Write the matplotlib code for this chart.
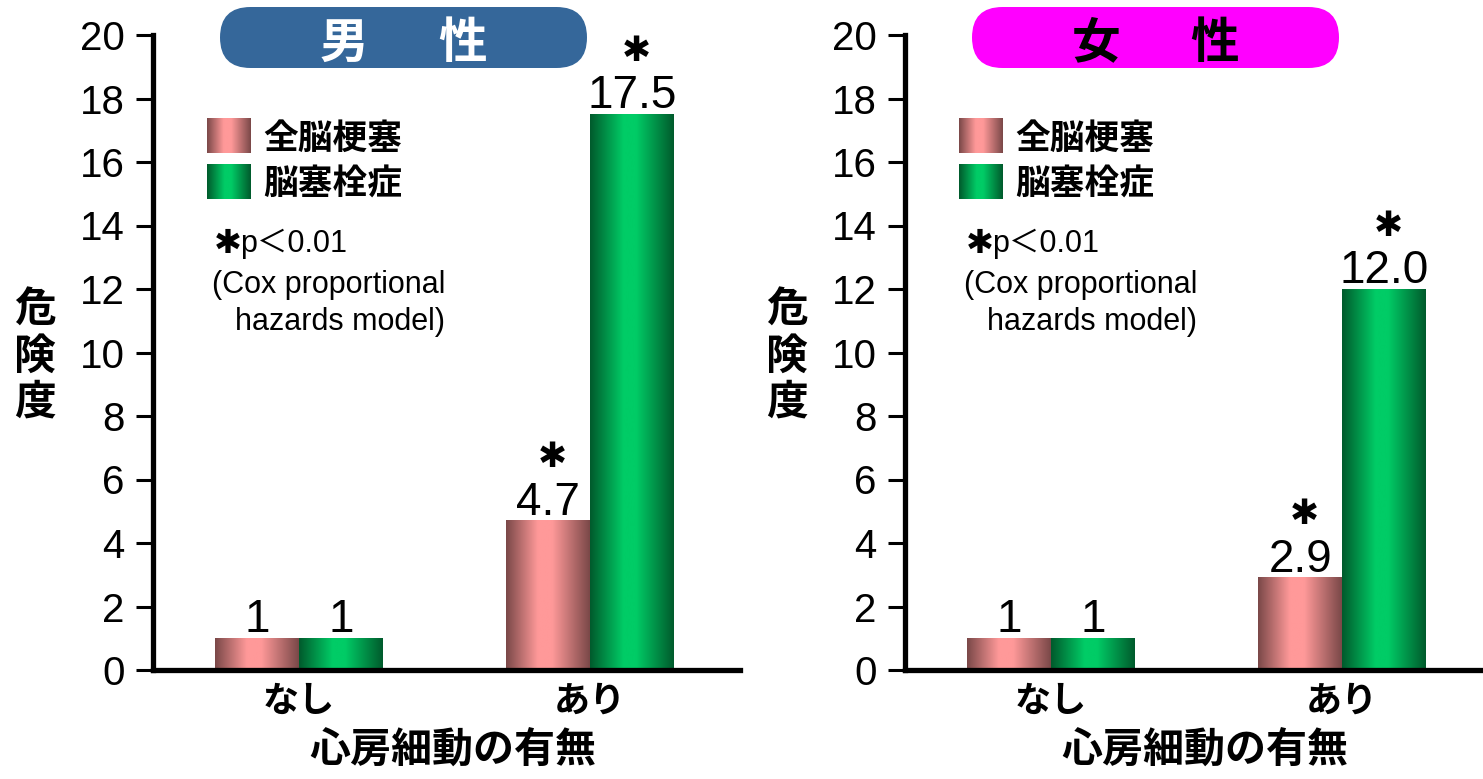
import numpy as np
import matplotlib
matplotlib.use("Agg")
import matplotlib.pyplot as plt
from matplotlib import font_manager
from matplotlib.colors import LinearSegmentedColormap
from matplotlib.patches import FancyBboxPatch

# ---- data -------------------------------------------------------------
groups = ["なし", "あり"]
series_names = ["全脳梗塞", "脳塞栓症"]
male_all = [1.0, 4.7]
male_embolic = [1.0, 17.5]
female_all = [1.0, 2.9]
female_embolic = [1.0, 12.0]
significant = [False, True]
y_ticks = [0, 2, 4, 6, 8, 10, 12, 14, 16, 18, 20]
star = "✱"
note_lines = ["p＜0.01", "(Cox proportional", "hazards model)"]

# ---- fonts ------------------------------------------------------------
available = {f.name for f in font_manager.fontManager.ttflist}
NUM_FONT = "Liberation Sans Narrow" if "Liberation Sans Narrow" in available else "Liberation Sans"
CJK = "Noto Sans CJK JP"
NUM_FAMILY = [NUM_FONT, CJK]
NOTE_FAMILY = ["Liberation Sans", CJK]
STAR_FAMILY = ["DejaVu Sans", CJK]

# ---- style ------------------------------------------------------------
W, H = 1483, 779
BAR_W = 0.288
XLIM = (-0.502, 1.515)
pink_cmap = LinearSegmentedColormap.from_list(
    "pink_bar", [(0, "#7a4848"), (0.38, "#ff9999"), (0.55, "#ff9999"), (1, "#7a4848")])
green_cmap = LinearSegmentedColormap.from_list(
    "green_bar", [(0, "#005a2c"), (0.40, "#00cc66"), (0.55, "#00cc66"), (1, "#005a2c")])
grad = np.linspace(0, 1, 256).reshape(1, -1)

fig = plt.figure(figsize=(W / 100, H / 100), dpi=100)


def px_rect(x0, y_top, x1, y_bot):
    return [x0 / W, 1 - y_bot / H, (x1 - x0) / W, (y_bot - y_top) / H]


def fy(y):
    return 1 - y / H


def fx(x):
    return x / W


def draw_panel(shift, all_vals, emb_vals, title, pill_color, title_color):
    ax = fig.add_axes(px_rect(153 + shift, 35, 740 + shift, 670))
    x = np.arange(len(groups))
    for vals, offset, cmap in ((all_vals, -BAR_W / 2, pink_cmap),
                               (emb_vals, BAR_W / 2, green_cmap)):
        bars = ax.bar(x + offset, vals, BAR_W, color="none", edgecolor="none")
        for rect, v, sig in zip(bars, vals, significant):
            x0 = rect.get_x()
            ax.imshow(grad, cmap=cmap, aspect="auto", zorder=2,
                      extent=[x0, x0 + rect.get_width(), 0, rect.get_height()])
            cx = x0 + rect.get_width() / 2
            label = "1" if v == 1 else f"{v:.1f}"
            ax.annotate(label, (cx, rect.get_height()), xytext=(0, 4.5),
                        textcoords="offset points", ha="center", va="baseline",
                        fontsize=33, family=NUM_FAMILY)
            if sig:
                ax.annotate(star, (cx, rect.get_height()), xytext=(3, 38.5),
                            textcoords="offset points", ha="center", va="baseline",
                            fontsize=25, family=STAR_FAMILY)
    ax.set_xlim(*XLIM)
    ax.set_ylim(0, 20)
    ax.set_yticks(y_ticks)
    ax.set_yticklabels([str(t) for t in y_ticks], fontsize=29, family=NUM_FAMILY)
    ax.set_xticks(x)
    ax.set_xticklabels(groups, fontsize=26, fontweight="bold", family=CJK)
    ax.tick_params(axis="y", direction="out", length=12.5, width=2.2, pad=8)
    ax.tick_params(axis="x", length=0, pad=9)
    for side in ("top", "right"):
        ax.spines[side].set_visible(False)
    for side in ("left", "bottom"):
        ax.spines[side].set_linewidth(3.8)
        ax.spines[side].set_capstyle("projecting")
    ax.set_xlabel("心房細動の有無", fontsize=29.5, fontweight="bold", family=CJK)
    ax.xaxis.set_label_coords(0.51, -0.094)

    # title pill
    pill_x0, pill_x1, pill_top, pill_bot = 220 + shift, 587 + shift, 7, 68
    h_in = (pill_bot - pill_top) / 100
    pill = FancyBboxPatch(((pill_x0) / 100, (H - pill_bot) / 100),
                          (pill_x1 - pill_x0) / 100, h_in,
                          boxstyle=f"round,pad=0,rounding_size={h_in / 2}",
                          transform=fig.dpi_scale_trans, facecolor=pill_color,
                          edgecolor="none")
    fig.add_artist(pill)
    pc = (pill_x0 + pill_x1) / 2
    for ch, dx in zip(title, (-59.5, 59.5)):
        fig.text(fx(pc + dx), fy(43), ch, ha="center", va="center", fontsize=35,
                 fontweight="bold", family=CJK, color=title_color)

    # legend
    for name, cmap, top in zip(series_names, (pink_cmap, green_cmap), (118, 164)):
        sw = fig.add_axes(px_rect(207 + shift, top, 251 + shift, top + 35))
        sw.imshow(grad, cmap=cmap, aspect="auto")
        sw.set_axis_off()
        fig.text(fx(263 + shift), fy(top + 20), name, ha="left", va="center",
                 fontsize=25, fontweight="bold", family=CJK)

    # significance note
    fig.text(fx(214 + shift), fy(253), star, ha="left", va="baseline",
             fontsize=24, family=STAR_FAMILY)
    for line, left, base in zip(note_lines, (240, 212, 235), (252, 293, 330)):
        fig.text(fx(left + shift), fy(base), line, ha="left", va="baseline",
                 fontsize=22, family=NOTE_FAMILY)

    # vertical y-axis label
    for ch, yc in zip("危険度", (311, 357, 402)):
        fig.text(fx(35 + shift), fy(yc), ch, ha="center", va="center",
                 fontsize=30, fontweight="bold", family=CJK)
    return ax


draw_panel(0, male_all, male_embolic, "男性", "#35679a", "white")
draw_panel(752, female_all, female_embolic, "女性", "#ff00ff", "black")

fig.savefig("out.png", dpi=100)
